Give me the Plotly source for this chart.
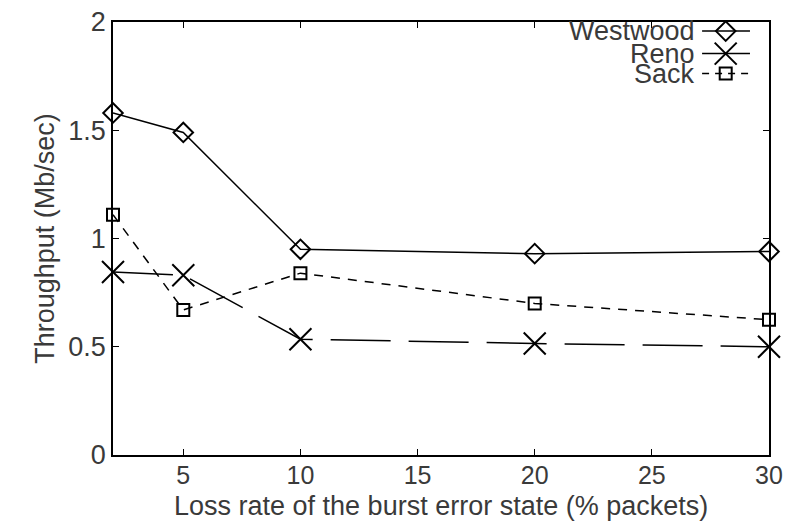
import plotly.graph_objects as go

loss_rate = [2, 5, 10, 20, 30]
westwood = [1.58, 1.49, 0.95, 0.93, 0.94]
reno = [0.845, 0.83, 0.535, 0.515, 0.50]
sack = [1.11, 0.67, 0.84, 0.70, 0.625]

series_names = ["Westwood", "Reno", "Sack"]
x_ticks = [5, 10, 15, 20, 25, 30]
y_ticks = [0, 0.5, 1, 1.5, 2]
y_tick_labels = ["0", "0.5", "1", "1.5", "2"]
x_title = "Loss rate of the burst error state (% packets)"
y_title = "Throughput (Mb/sec)"

FONT = "Liberation Sans, Arial, sans-serif"
TXT = "#3a3a3a"

styles = {
    "Westwood": dict(dash="solid", symbol="diamond-open", size=15),
    "Reno": dict(dash="60px,18px", symbol="x-thin-open", size=22),
    "Sack": dict(dash="9px,8px", symbol="square-open", size=12),
}
values = {"Westwood": westwood, "Reno": reno, "Sack": sack}

fig = go.Figure()
for name in series_names:
    st = styles[name]
    fig.add_trace(go.Scatter(
        x=loss_rate, y=values[name], name=name, mode="lines+markers",
        line=dict(color="black", width=1.5, dash=st["dash"]),
        marker=dict(symbol=st["symbol"], size=st["size"], color="black",
                    line=dict(color="black", width=2)),
        cliponaxis=False, showlegend=False,
    ))

# manual legend (text left of symbol, as in the reference)
leg_y = [0.979, 0.927, 0.881]
leg_text_x = 0.889
leg_line_x0, leg_line_x1 = 0.898, 0.971
leg_marker_x = 0.934
for name, ly in zip(series_names, leg_y):
    st = styles[name]
    fig.add_annotation(x=leg_text_x, y=ly, xref="paper", yref="paper",
                       text=name, showarrow=False, xanchor="right", yanchor="middle",
                       font=dict(family=FONT, size=27, color=TXT), borderpad=0)
    fig.add_shape(type="line", xref="paper", yref="paper",
                  x0=leg_line_x0, x1=leg_line_x1, y0=ly, y1=ly,
                  line=dict(color="black", width=1.5,
                            dash="solid" if name != "Sack" else "7px,6px"))
    fig.add_trace(go.Scatter(
        x=[leg_marker_x], y=[ly], xaxis="x2", yaxis="y2", mode="markers",
        marker=dict(symbol=st["symbol"], size=st["size"], color="black",
                    line=dict(color="black", width=2)),
        showlegend=False, hoverinfo="skip", cliponaxis=False,
    ))

# x-axis title placed as an annotation at the very bottom
fig.add_annotation(x=0.5, y=-0.154, xref="paper", yref="paper", text=x_title,
                   showarrow=False, xanchor="center", yanchor="bottom",
                   font=dict(family=FONT, size=27, color=TXT), borderpad=0)

fig.update_layout(
    width=787, height=522,
    margin=dict(l=113, r=18, t=22, b=67, autoexpand=False),
    paper_bgcolor="white", plot_bgcolor="white",
    font=dict(family=FONT, size=25, color=TXT),
    xaxis=dict(range=[2, 30], tickvals=x_ticks, ticks="inside", ticklen=6,
               tickcolor="black", showline=True, linecolor="black", linewidth=1.5,
               mirror="ticks", showgrid=False, zeroline=False, automargin=False,
               ticklabelstandoff=-3,
               tickfont=dict(family=FONT, size=25, color=TXT)),
    yaxis=dict(range=[0, 2], tickvals=y_ticks, ticktext=y_tick_labels,
               ticks="inside", ticklen=6, tickcolor="black", showline=True,
               linecolor="black", linewidth=1.5, mirror="ticks", showgrid=False,
               zeroline=False, automargin=False,
               tickfont=dict(family=FONT, size=27, color=TXT),
               title=dict(text=y_title,
                          font=dict(family=FONT, size=27, color=TXT), standoff=6)),
    xaxis2=dict(range=[0, 1], overlaying="x", visible=False, anchor="y2"),
    yaxis2=dict(range=[0, 1], overlaying="y", visible=False, anchor="x2"),
)

fig.write_html("out.html")
